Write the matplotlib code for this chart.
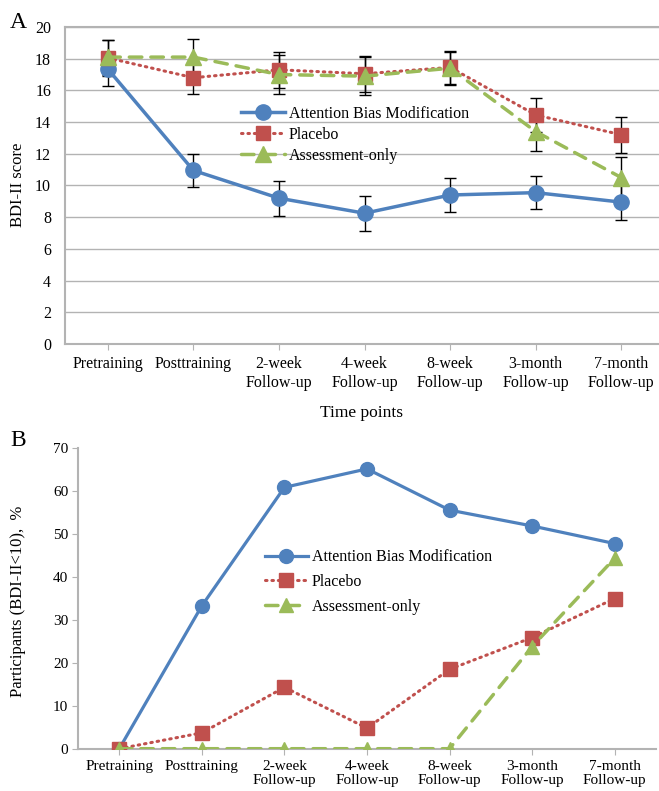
import matplotlib
matplotlib.use("Agg")
import matplotlib.pyplot as plt

# time points (shared by both panels)
TIMES = ["Pretraining", "Posttraining", "2-week\nFollow-up", "4-week\nFollow-up",
         "8-week\nFollow-up", "3-month\nFollow-up", "7-month\nFollow-up"]
LABELS = ["Attention Bias Modification", "Placebo", "Assessment-only"]

# panel A: BDI-II score mean and error
abm_score = [17.35, 10.95, 9.2, 8.25, 9.4, 9.55, 8.95]
abm_err = [1.05, 1.05, 1.1, 1.1, 1.05, 1.05, 1.1]
pla_score = [18.05, 16.8, 17.3, 17.05, 17.45, 14.45, 13.2]
pla_err = [1.15, 1.05, 1.15, 1.15, 1.05, 1.05, 1.15]
ass_score = [18.1, 18.1, 17.0, 16.9, 17.4, 13.4, 10.5]
ass_err = [1.1, 1.15, 1.25, 1.2, 1.05, 1.2, 1.3]

# panel B: participants with BDI-II < 10, %
abm_pct = [0, 33.3, 60.9, 65.2, 55.6, 51.9, 47.8]
pla_pct = [0, 3.7, 14.3, 4.8, 18.5, 25.9, 35.0]
ass_pct = [0, 0, 0, 0, 0, 23.8, 44.4]

BLUE, RED, GREEN = "#4F81BD", "#C0504D", "#9BBB59"
GRAY = "#B3B3B3"
DOT = (0, (0.5, 1.6))
DASH = (0, (3.6, 2.6))

plt.rcParams.update({
    "font.family": ["Liberation Serif", "DejaVu Serif"],
    "text.color": "black",
})

fig = plt.figure(figsize=(6.59, 7.91), dpi=100)
W, H = 659, 791
axA = fig.add_axes([65 / W, 1 - 344 / H, 594 / W, 317 / H])
axB = fig.add_axes([78 / W, 1 - 748.7 / H, 578 / W, 300.4 / H])

x = list(range(len(TIMES)))

# ---- panel A
styles = [
    (abm_score, abm_err, BLUE, "o", "-", 2.5, 11),
    (pla_score, pla_err, RED, "s", DOT, 2.2, 10),
    (ass_score, ass_err, GREEN, "^", DASH, 2.5, 11),
]
for (y, e, c, m, ls, lw, ms), lab in zip(styles, LABELS):
    axA.errorbar(x, y, yerr=e, fmt="none", ecolor="black", elinewidth=1,
                 capsize=4, capthick=1, zorder=2)
    axA.plot(x, y, color=c, marker=m, linestyle=ls, linewidth=lw,
             markersize=ms, dash_capstyle="round", label=lab, zorder=3)

axA.set_xlim(-0.5, 6.44)
axA.set_ylim(0, 20)
axA.set_yticks(range(0, 21, 2))
axA.set_xticks(x)
axA.set_xticklabels(TIMES, fontsize=11.5, linespacing=1.2)
axA.tick_params(axis="y", labelsize=11.5, length=0, pad=10)
axA.tick_params(axis="x", length=4, color=GRAY, pad=5)
axA.grid(axis="y", color=GRAY, linewidth=1)
axA.set_axisbelow(True)
axA.spines["right"].set_visible(False)
for s in ["left", "bottom", "top"]:
    axA.spines[s].set_color(GRAY)
    axA.spines[s].set_linewidth(1.5)
axA.legend(loc="center left", bbox_to_anchor=(0.297, 0.66), frameon=False,
           fontsize=11.5, handlelength=2.7, handletextpad=0.25,
           borderaxespad=0, borderpad=0, labelspacing=0.3)

fig.text(18 / W, 1 - 185 / H, "BDI-II score", rotation=90, ha="center",
         va="center", fontsize=12)
fig.text(362 / W, 1 - 413 / H, "Time points", ha="center", va="center", fontsize=12.5)
fig.text(18 / W, 1 - 22 / H, "A", ha="center", va="center", fontsize=17)
fig.text(18 / W, 1 - 440 / H, "B", ha="center", va="center", fontsize=17)

# ---- panel B
styles = [
    (abm_pct, BLUE, "o", "-", 2.3, 10),
    (pla_pct, RED, "s", DOT, 2.2, 9.5),
    (ass_pct, GREEN, "^", DASH, 2.5, 10),
]
for (y, c, m, ls, lw, ms), lab in zip(styles, LABELS):
    axB.plot(x, y, color=c, marker=m, linestyle=ls, linewidth=lw,
             markersize=ms, dash_capstyle="round", label=lab, zorder=3)

axB.set_xlim(-0.5, 6.5)
axB.set_ylim(0, 70)
axB.set_yticks(range(0, 71, 10))
axB.set_xticks(x)
axB.set_xticklabels(TIMES, fontsize=11, linespacing=1.15)
axB.tick_params(axis="y", labelsize=11, length=4, color=GRAY, pad=3)
axB.tick_params(axis="x", length=4, color=GRAY, pad=4)
for s in ["right", "top"]:
    axB.spines[s].set_visible(False)
for s in ["left", "bottom"]:
    axB.spines[s].set_color(GRAY)
    axB.spines[s].set_linewidth(1.5)
axB.legend(loc="center left", bbox_to_anchor=(0.323, 0.555), frameon=False,
           fontsize=11.5, handlelength=2.7, handletextpad=0.25,
           borderaxespad=0, borderpad=0, labelspacing=0.55)

fig.text(18 / W, 1 - 601 / H, "Participants (BDI-II<10),  %", rotation=90,
         ha="center", va="center", fontsize=12)

fig.savefig("out.png", dpi=100)
